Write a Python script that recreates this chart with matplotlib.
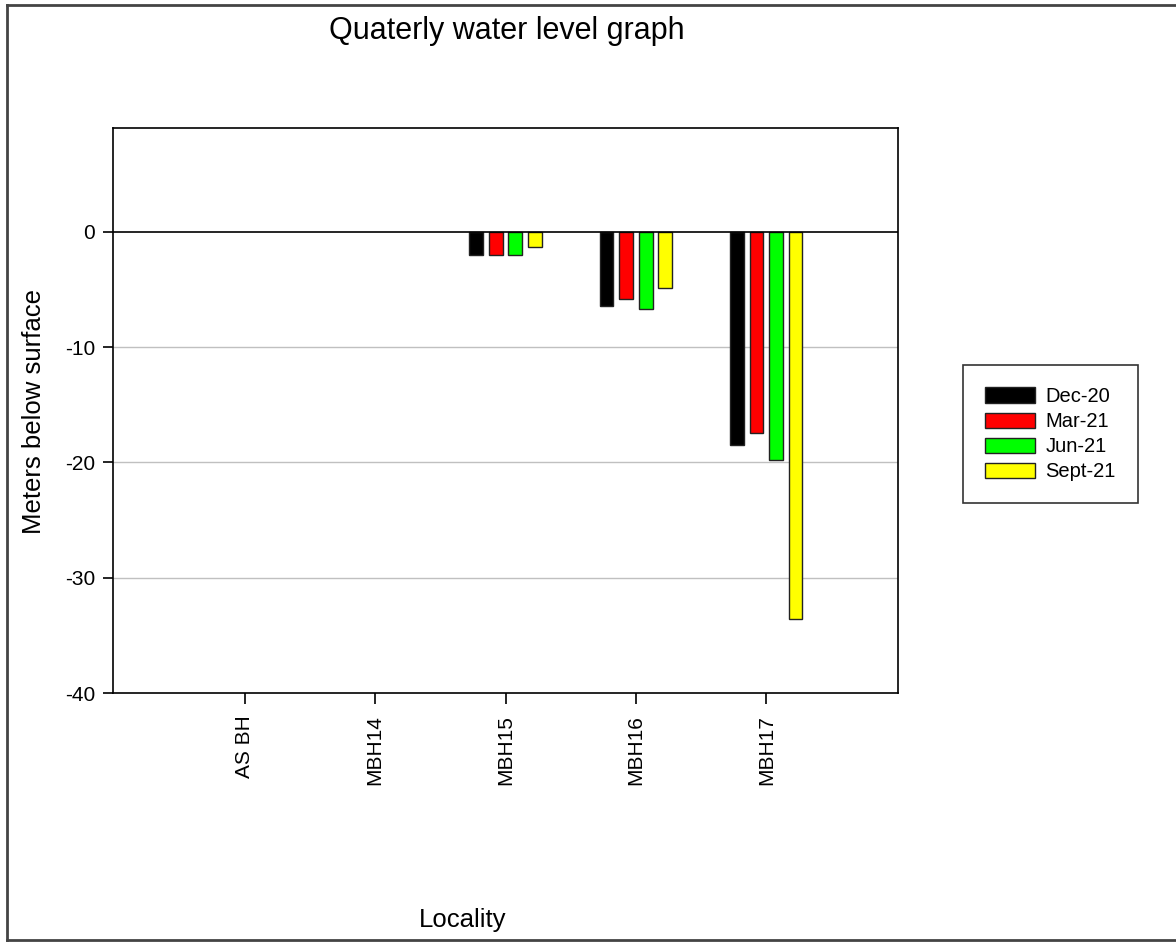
import matplotlib.pyplot as plt
from matplotlib.lines import Line2D
import numpy as np

plt.rcParams['font.family'] = ['Liberation Sans', 'DejaVu Sans']
plt.rcParams['axes.unicode_minus'] = False

localities = ['AS BH', 'MBH14', 'MBH15', 'MBH16', 'MBH17']
quarters = ['Dec-20', 'Mar-21', 'Jun-21', 'Sept-21']
colors = ['#000000', '#ff0000', '#00ff00', '#ffff00']

dec20 = [np.nan, np.nan, -2.05, -6.4, -18.5]
mar21 = [np.nan, np.nan, -2.0, -5.85, -17.45]
jun21 = [np.nan, np.nan, -2.0, -6.7, -19.8]
sep21 = [np.nan, np.nan, -1.3, -4.85, -33.6]
series = [dec20, mar21, jun21, sep21]

fig = plt.figure(figsize=(11.76, 9.42), dpi=100)
ax = fig.add_axes([0.0961, 0.2643, 0.6675, 0.5998])

x = np.arange(len(localities))
step = 0.15
width = 0.105
for i, vals in enumerate(series):
    ax.bar(x + (i - 1.5) * step, vals, width, color=colors[i],
           edgecolor='#222222', linewidth=1.0, label=quarters[i], zorder=3)

ax.set_xlim(-1.01, 5.01)
ax.set_ylim(-40, 9)
ax.set_yticks([0, -10, -20, -30, -40])
ax.set_xticks(x)
ax.set_xticklabels(localities, rotation=90)
for g in [-10, -20, -30]:
    ax.axhline(g, color='#c0c0c0', linewidth=1.0, zorder=1)
ax.axhline(0, color='black', linewidth=1.2, zorder=4)

ax.tick_params(axis='both', direction='out', length=7, width=1.2,
               labelsize=15, color='black')
ax.tick_params(axis='y', pad=6)
ax.tick_params(axis='x', length=8, pad=8)
for s in ax.spines.values():
    s.set_linewidth(1.2)
    s.set_color('black')

fig.text(0.431, 0.967, 'Quaterly water level graph', fontsize=22,
         ha='center', va='center')
fig.text(0.393, 0.023, 'Locality', fontsize=18.5, ha='center', va='center')
fig.text(0.029, 0.563, 'Meters below surface', fontsize=18.5, rotation=90,
         ha='center', va='center')

leg = fig.legend(loc='center', bbox_to_anchor=(0.893, 0.539), fontsize=14.5,
                 fancybox=False, framealpha=1, edgecolor='#333333',
                 handlelength=2.5, handleheight=0.8, handletextpad=0.5,
                 labelspacing=0.3, borderpad=1.1, borderaxespad=0)
leg.get_frame().set_linewidth(1.2)

# page frame: left, top and bottom edges only
x0, y0, y1 = 7 / 1176, 2 / 942, 1 - 5 / 942
for xs, ys in [([x0, x0], [y0, y1]), ([x0, 1], [y1, y1]), ([x0, 1], [y0, y0])]:
    fig.add_artist(Line2D(xs, ys, transform=fig.transFigure,
                          color='#444444', linewidth=2.0))

fig.savefig('out.png', dpi=100)
